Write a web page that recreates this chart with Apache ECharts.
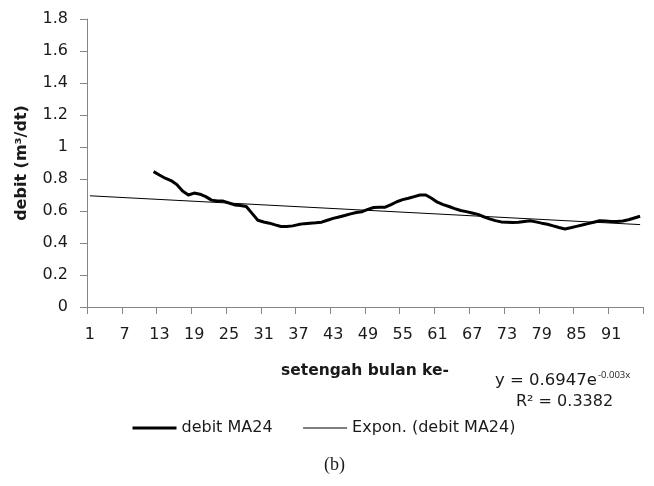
<!DOCTYPE html>
<html>
<head>
<meta charset="utf-8">
<script src="https://cdn.jsdelivr.net/npm/echarts@6/dist/echarts.min.js"></script>
<style>
  html, body { margin: 0; padding: 0; background: #fff; }
  #chart { width: 654px; height: 486px; }
</style>
</head>
<body>
<div id="chart"></div>
<script>
// half-month index on the x axis
const categories = Array.from({ length: 96 }, (_, i) => String(i + 1));

// moving average (24) starts at half-month 12
const maStart = 12;
const maValues = [
  0.846, 0.825, 0.805, 0.790, 0.765, 0.725, 0.700, 0.712, 0.705, 0.690,
  0.668, 0.662, 0.662, 0.650, 0.638, 0.634, 0.628, 0.585, 0.542, 0.531,
  0.524, 0.513, 0.503, 0.503, 0.507, 0.515, 0.521, 0.524, 0.526, 0.530,
  0.542, 0.554, 0.563, 0.572, 0.582, 0.591, 0.596, 0.610, 0.622, 0.623,
  0.624, 0.640, 0.658, 0.671, 0.680, 0.690, 0.700, 0.700, 0.680, 0.655,
  0.640, 0.628, 0.615, 0.603, 0.596, 0.588, 0.579, 0.564, 0.551, 0.540,
  0.532, 0.530, 0.528, 0.530, 0.535, 0.539, 0.532, 0.524, 0.517, 0.507,
  0.497, 0.488, 0.495, 0.504, 0.512, 0.521, 0.530, 0.539, 0.537, 0.534,
  0.535, 0.538, 0.545, 0.556, 0.567
];

// exponential trendline, read at both ends
const trendX = [1, 96];
const trendY = [0.695, 0.515];

const yTicks = { min: 0, max: 1.8, step: 0.2 };

const maData = categories.map((c, i) =>
  i + 1 >= maStart ? maValues[i + 1 - maStart] : null);
const trendData = trendX.map((x, i) => [x - 1, trendY[i]]);

const textColor = '#1a1a1a';
const axisColor = '#868686';
const font = 'DejaVu Sans';

const chart = echarts.init(document.getElementById('chart'));

const option = {
  animation: false,
  grid: { left: 87, right: 11, top: 19, bottom: 179, containLabel: false },
  legend: {
    left: 126,
    top: 415,
    itemWidth: 44,
    itemHeight: 14,
    itemGap: 30,
    itemStyle: { opacity: 0 },
    textStyle: { fontFamily: font, fontSize: 16, color: textColor },
    data: [
      { name: 'debit MA24', lineStyle: { width: 3 } },
      { name: 'Expon. (debit MA24)', lineStyle: { width: 1 } }
    ]
  },
  xAxis: {
    type: 'category',
    data: categories,
    boundaryGap: true,
    name: 'setengah bulan ke-',
    nameLocation: 'middle',
    nameGap: 56,
    nameTextStyle: { fontFamily: font, fontSize: 15.5, fontWeight: 'bold', color: textColor },
    axisLine: { lineStyle: { color: axisColor, width: 1 } },
    axisTick: { show: true, interval: 5, length: 7, lineStyle: { color: axisColor } },
    axisLabel: { interval: 5, margin: 20, fontFamily: font, fontSize: 16, color: textColor },
    splitLine: { show: false }
  },
  yAxis: {
    type: 'value',
    min: yTicks.min,
    max: yTicks.max,
    interval: yTicks.step,
    name: 'debit (m³/dt)',
    nameLocation: 'middle',
    nameRotate: 90,
    nameGap: 57,
    nameTextStyle: { fontFamily: font, fontSize: 16, fontWeight: 'bold', color: textColor },
    axisLine: { show: true, lineStyle: { color: axisColor, width: 1 } },
    axisTick: { show: true, length: 7, lineStyle: { color: axisColor } },
    axisLabel: {
      margin: 19, fontFamily: font, fontSize: 16, color: textColor,
      formatter: v => String(+v.toFixed(1))
    },
    splitLine: { show: false }
  },
  series: [
    {
      name: 'debit MA24',
      type: 'line',
      data: maData,
      symbol: 'none',
      smooth: false,
      lineStyle: { color: '#000', width: 3 },
      itemStyle: { color: '#000' }
    },
    {
      name: 'Expon. (debit MA24)',
      type: 'line',
      data: trendData,
      symbol: 'none',
      lineStyle: { color: '#000', width: 1 },
      itemStyle: { color: '#000' }
    }
  ],
  graphic: [
    {
      type: 'text', left: 495, top: 372,
      style: { text: 'y = 0.6947e', fontFamily: font, fontSize: 16.5, fill: textColor }
    },
    {
      type: 'text', left: 598, top: 370,
      style: { text: '-0.003x', fontFamily: 'Open Sans', fontSize: 9.5, fill: textColor }
    },
    {
      type: 'text', left: 516, top: 394,
      style: { text: 'R² = 0.3382', fontFamily: font, fontSize: 16, fill: textColor }
    },
    {
      type: 'text', left: 324, top: 456,
      style: { text: '(b)', fontFamily: 'Liberation Serif', fontSize: 18, fill: textColor }
    }
  ]
};

chart.setOption(option);
</script>
</body>
</html>
